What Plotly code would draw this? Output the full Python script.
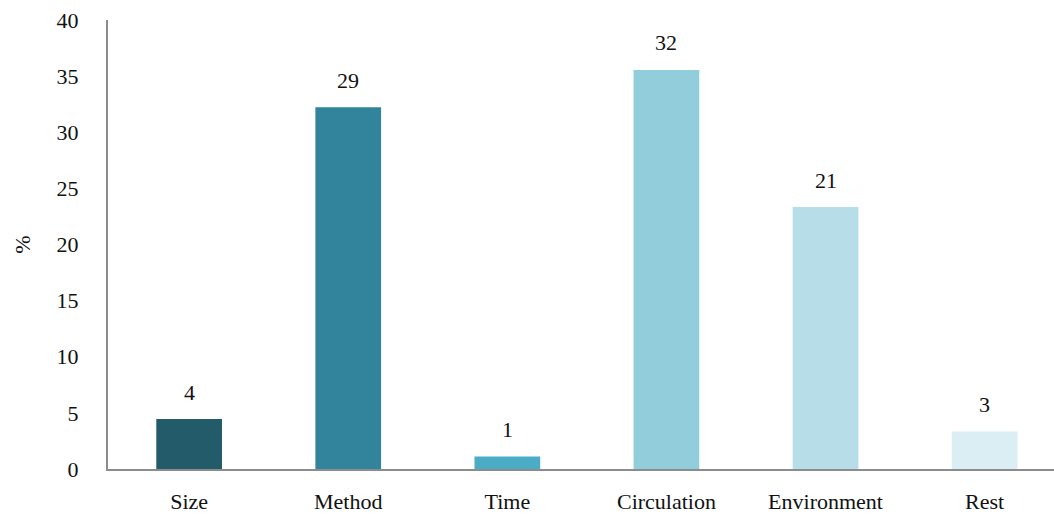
import plotly.graph_objects as go

categories = ["Size", "Method", "Time", "Circulation", "Environment", "Rest"]
counts = [4, 29, 1, 32, 21, 3]
bar_colors = ["#245b6b", "#31849b", "#4bacc6", "#92cddc", "#b7dde8", "#daeef3"]
y_ticks = [0, 5, 10, 15, 20, 25, 30, 35, 40]

# bar height is each category's share of the total, in percent
total = sum(counts)
shares = [c / total * 100 for c in counts]

font_family = "'Times New Roman', 'Liberation Serif', serif"
axis_color = "#8c8c8c"
text_color = "#111111"
font_size = 22

fig = go.Figure(
    go.Bar(
        x=categories,
        y=shares,
        marker=dict(color=bar_colors, line=dict(width=0)),
        width=0.413,
        hoverinfo="skip",
    )
)

# count labels above each bar
for cat, share, c in zip(categories, shares, counts):
    fig.add_annotation(
        x=cat, y=share, text=str(c), showarrow=False,
        yanchor="middle", yshift=27,
        font=dict(family=font_family, size=font_size, color=text_color),
    )

fig.update_layout(
    width=1054, height=514,
    margin=dict(l=108, r=0, t=20, b=45),
    paper_bgcolor="white", plot_bgcolor="white",
    showlegend=False,
    font=dict(family=font_family, size=font_size, color=text_color),
    xaxis=dict(
        range=[-0.51, 5.436],
        showgrid=False, zeroline=False,
        showline=True, linecolor=axis_color, linewidth=2,
        ticks="outside", ticklen=12, tickcolor="rgba(0,0,0,0)",
        tickfont=dict(family=font_family, size=font_size, color=text_color),
    ),
    yaxis=dict(
        range=[0, 40],
        tickvals=y_ticks,
        showgrid=False, zeroline=False,
        showline=True, linecolor=axis_color, linewidth=2,
        ticks="outside", ticklen=23, tickcolor="rgba(0,0,0,0)",
        tickfont=dict(family=font_family, size=font_size, color=text_color),
        title=dict(text="%", standoff=20,
                   font=dict(family=font_family, size=font_size, color=text_color)),
    ),
)

fig.write_html("out.html")
